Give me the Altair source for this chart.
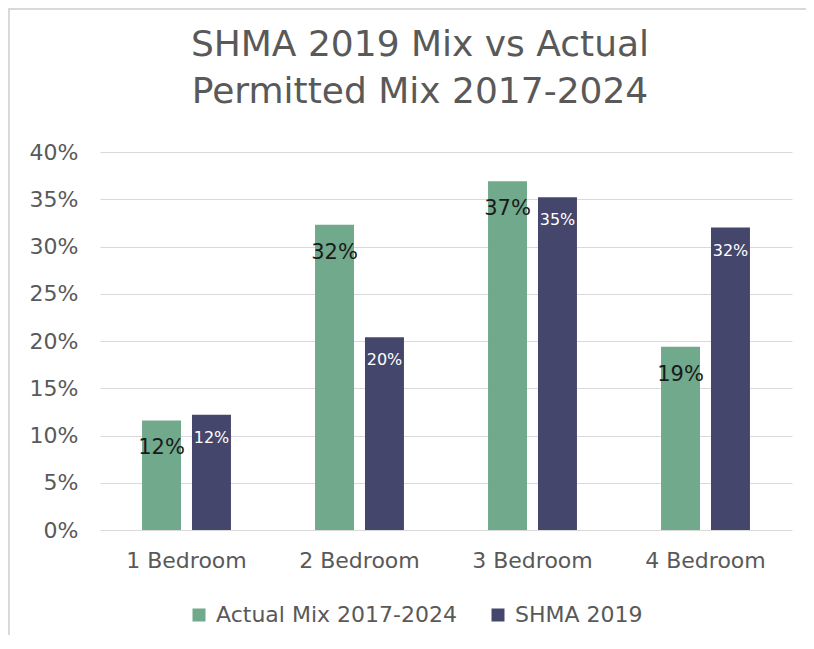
import altair as alt
import pandas as pd

categories = ["1 Bedroom", "2 Bedroom", "3 Bedroom", "4 Bedroom"]
series = ["Actual Mix 2017-2024", "SHMA 2019"]
actual = [0.116, 0.323, 0.369, 0.194]
shma = [0.122, 0.204, 0.352, 0.320]
colors = ["#70a98b", "#45466b"]
y_ticks = [0, 0.05, 0.10, 0.15, 0.20, 0.25, 0.30, 0.35, 0.40]

rows = []
for c, v in zip(categories, actual):
    rows.append({"cat": c, "series": series[0], "value": v})
for c, v in zip(categories, shma):
    rows.append({"cat": c, "series": series[1], "value": v})
df = pd.DataFrame(rows)

FONT = "DejaVu Sans"
GREY = "#595959"

x = alt.X("cat:N", sort=categories, title=None,
          scale=alt.Scale(paddingInner=0.486, paddingOuter=0.243),
          axis=alt.Axis(labelAngle=0, labelFontSize=22, labelColor=GREY, labelFont=FONT,
                        ticks=False, domain=False, labelPadding=20))
xo = alt.XOffset("series:N", sort=series, scale=alt.Scale(paddingInner=0.22, paddingOuter=0))
y = alt.Y("value:Q", title=None,
          scale=alt.Scale(domain=[0, 0.40]),
          axis=alt.Axis(values=y_ticks, format=".0%", labelFontSize=22, labelColor=GREY,
                        labelFont=FONT, ticks=False, domain=False, gridColor="#d9d9d9",
                        labelPadding=22))

base = alt.Chart(df)
bars = base.mark_bar().encode(
    x=x, xOffset=xo, y=y,
    color=alt.Color("series:N", sort=series, title=None,
                    scale=alt.Scale(domain=series, range=colors),
                    legend=alt.Legend(orient="none", direction="horizontal",
                                      legendX=88, legendY=452,
                                      symbolType="square", symbolSize=169,
                                      symbolStrokeWidth=0, labelLimit=400,
                                      labelFontSize=22, labelColor=GREY, labelFont=FONT,
                                      columnPadding=30, labelOffset=6)),
)

txt_actual = base.transform_filter(alt.datum.series == series[0]).mark_text(
    baseline="top", dy=17, fontSize=21, color="#1a1a1a", font=FONT
).encode(x=x, xOffset=xo, y=y, text=alt.Text("value:Q", format=".0%"))

txt_shma = base.transform_filter(alt.datum.series == series[1]).mark_text(
    baseline="top", dy=15, fontSize=16, color="#ffffff", font=FONT
).encode(x=x, xOffset=xo, y=y, text=alt.Text("value:Q", format=".0%"))

frame = alt.Chart(pd.DataFrame({"k": [0]})).mark_rect(
    fill=None, stroke="#d9d9d9", strokeWidth=2
).encode(x=alt.value(-91), x2=alt.value(900), y=alt.value(-143), y2=alt.value(600))

chart = alt.layer(frame, bars, txt_actual, txt_shma).properties(
    width=692, height=378,
    background="white",
    title=alt.TitleParams(["SHMA 2019 Mix vs Actual", "Permitted Mix 2017-2024"],
                          fontSize=36, font=FONT, color=GREY, fontWeight="normal",
                          anchor="middle", frame="group", dx=-26, offset=-103,
                          lineHeight=47),
    padding={"left": 92, "top": 144, "right": 14, "bottom": 105},
    autosize=alt.AutoSizeParams(type="none"),
).configure_view(stroke=None, strokeWidth=0)

chart.save("out.html", embed_options={"renderer": "svg", "actions": False})
